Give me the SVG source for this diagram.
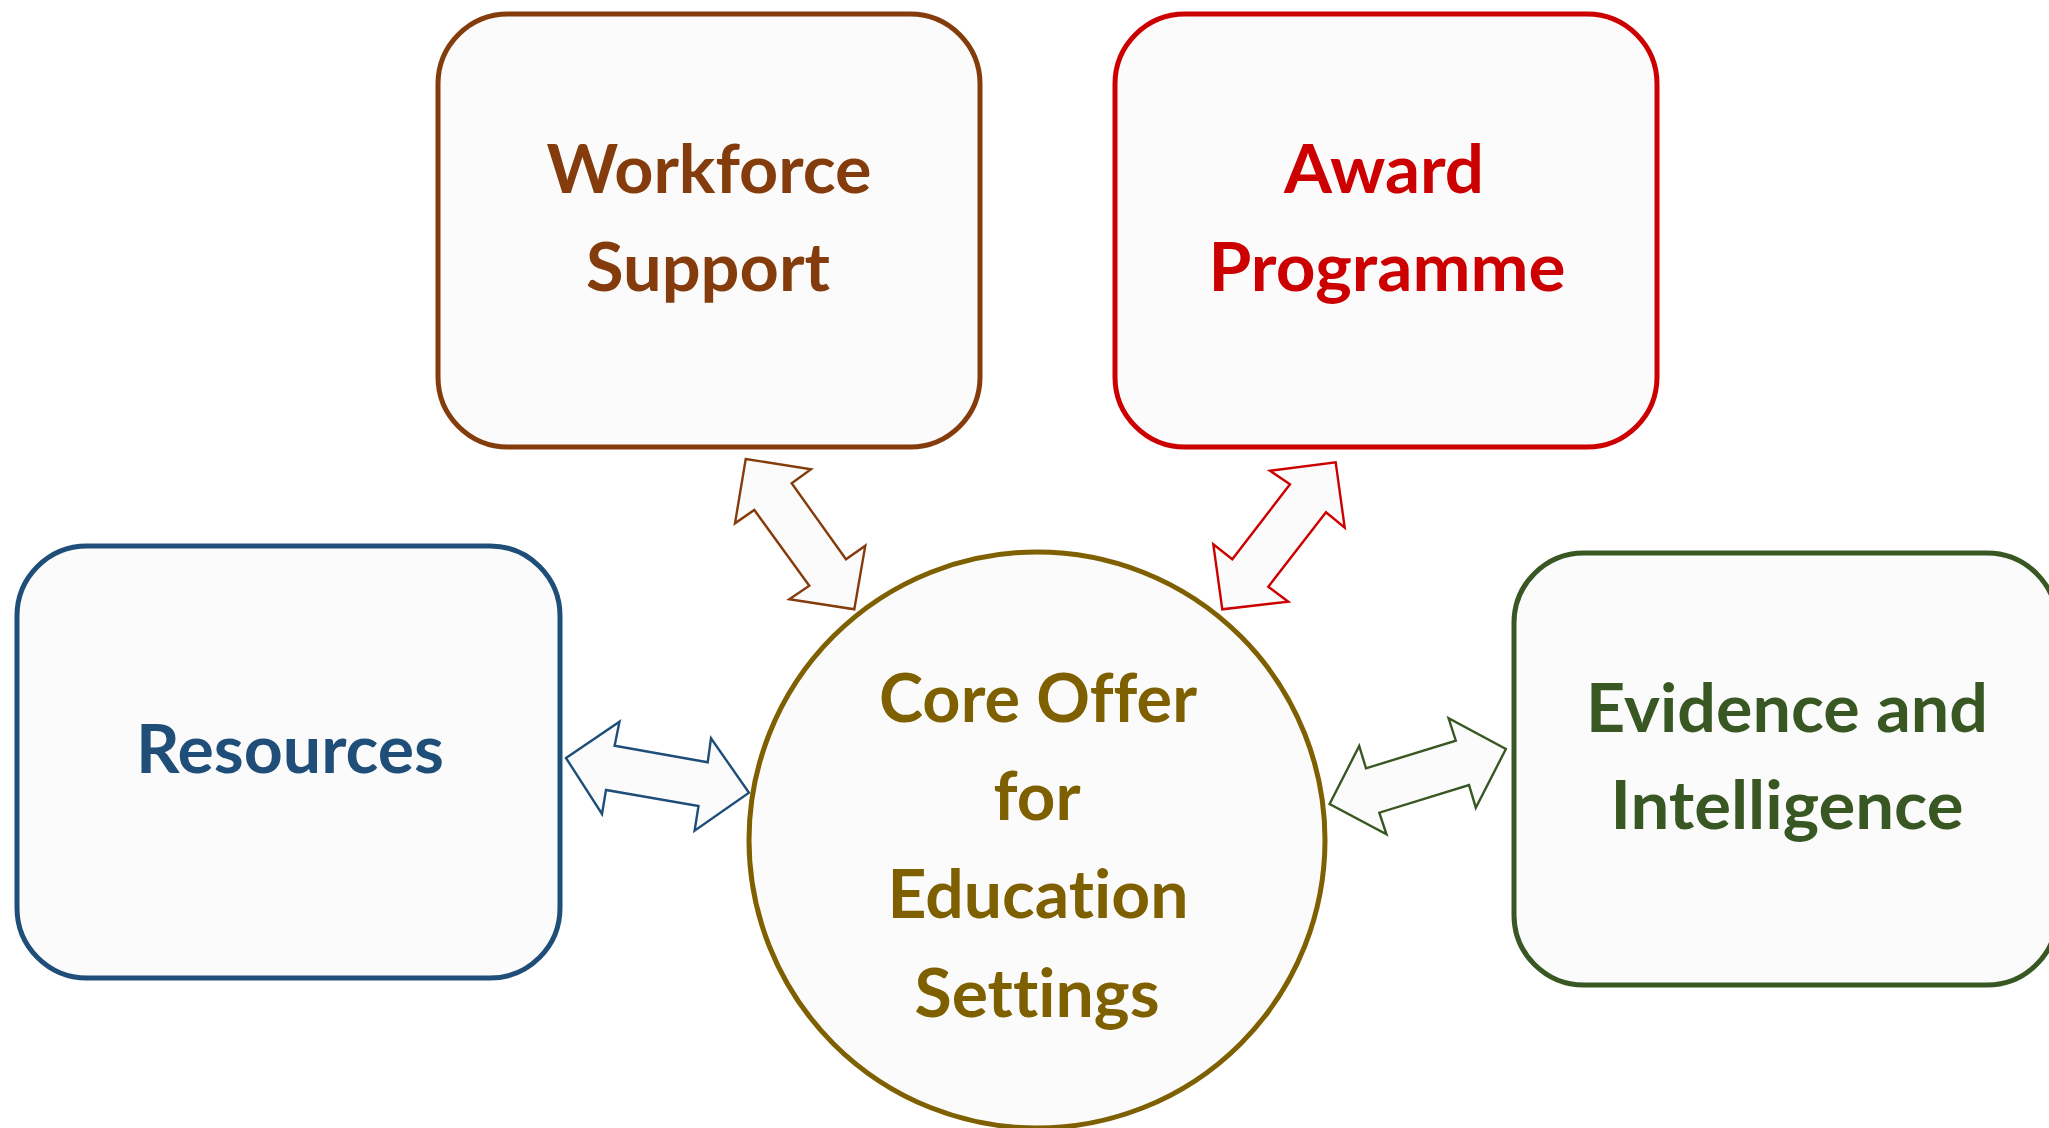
<svg xmlns="http://www.w3.org/2000/svg" width="2049" height="1128" viewBox="0 0 2049 1128">
<style>
.box{fill:#FBFBFB;stroke-width:5}
.lbl{font-family:Lato,"Liberation Sans",sans-serif;font-weight:700;font-size:66px;text-anchor:middle;font-variant-ligatures:none;font-feature-settings:"liga" 0,"clig" 0}
.arr{fill:#FBFBFB;stroke-width:2.4;stroke-linejoin:miter}
</style>
<rect width="2049" height="1128" fill="#FFFFFF"/>
<g id="connectors">
<polygon class="arr" stroke="#843C0C" points="745.7,459 811,469.3 791.7,483.3 846,559.3 865.3,545.7 854.3,609.3 789.3,599.3 809.3,585.7 754.3,510 735,523.3"/>
<polygon class="arr" stroke="#CC0000" points="1335.7,462.3 1344.7,527.7 1326,512.3 1268.3,586.7 1288.3,601.7 1222.3,609.3 1213.3,544.3 1232.3,559.3 1290,484.3 1270,470.7"/>
<polygon class="arr" stroke="#1F4E79" points="566,758 619.5,721.7 614.6,745.7 707.7,762.3 711,738.3 749,792.7 694.6,830.7 698.5,806 606,790 602,814"/>
<polygon class="arr" stroke="#385723" points="1329.6,804 1359.2,746 1366,768.3 1455.8,740.7 1448.6,718.3 1505.9,749 1475.8,807.7 1469,785 1379.3,812.7 1386.5,834.3"/>
</g>
<g id="workforce">
<rect class="box" stroke="#843C0C" x="438" y="14" width="542" height="433" rx="70"/>
<text class="lbl" fill="#843C0C" x="709" y="193" textLength="325" lengthAdjust="spacingAndGlyphs">Workforce</text>
<text class="lbl" fill="#843C0C" x="708" y="291" textLength="244" lengthAdjust="spacingAndGlyphs">Support</text>
</g>
<g id="award">
<rect class="box" stroke="#CC0000" x="1115" y="14" width="542" height="433" rx="70"/>
<text class="lbl" fill="#CC0000" x="1384" y="193" textLength="200" lengthAdjust="spacingAndGlyphs">Award</text>
<text class="lbl" fill="#CC0000" x="1387" y="291" textLength="357" lengthAdjust="spacingAndGlyphs">Programme</text>
</g>
<g id="resources">
<rect class="box" stroke="#1F4E79" x="17" y="546" width="543" height="432" rx="70"/>
<text class="lbl" fill="#1F4E79" x="290" y="773" textLength="308" lengthAdjust="spacingAndGlyphs">Resources</text>
</g>
<g id="evidence">
<rect class="box" stroke="#385723" x="1514" y="553" width="543" height="432" rx="70"/>
<text class="lbl" fill="#385723" x="1787" y="732" textLength="402" lengthAdjust="spacingAndGlyphs">Evidence and</text>
<text class="lbl" fill="#385723" x="1787" y="829" textLength="353" lengthAdjust="spacingAndGlyphs">Intelligence</text>
</g>
<g id="core">
<circle class="box" stroke="#7F6000" cx="1037" cy="840" r="288"/>
<text class="lbl" fill="#7F6000" x="1038" y="722" textLength="318" lengthAdjust="spacingAndGlyphs">Core Offer</text>
<text class="lbl" fill="#7F6000" x="1037" y="820" textLength="87" lengthAdjust="spacingAndGlyphs">for</text>
<text class="lbl" fill="#7F6000" x="1038" y="918" textLength="301" lengthAdjust="spacingAndGlyphs">Education</text>
<text class="lbl" fill="#7F6000" x="1037" y="1017" textLength="245" lengthAdjust="spacingAndGlyphs">Settings</text>
</g>
</svg>
